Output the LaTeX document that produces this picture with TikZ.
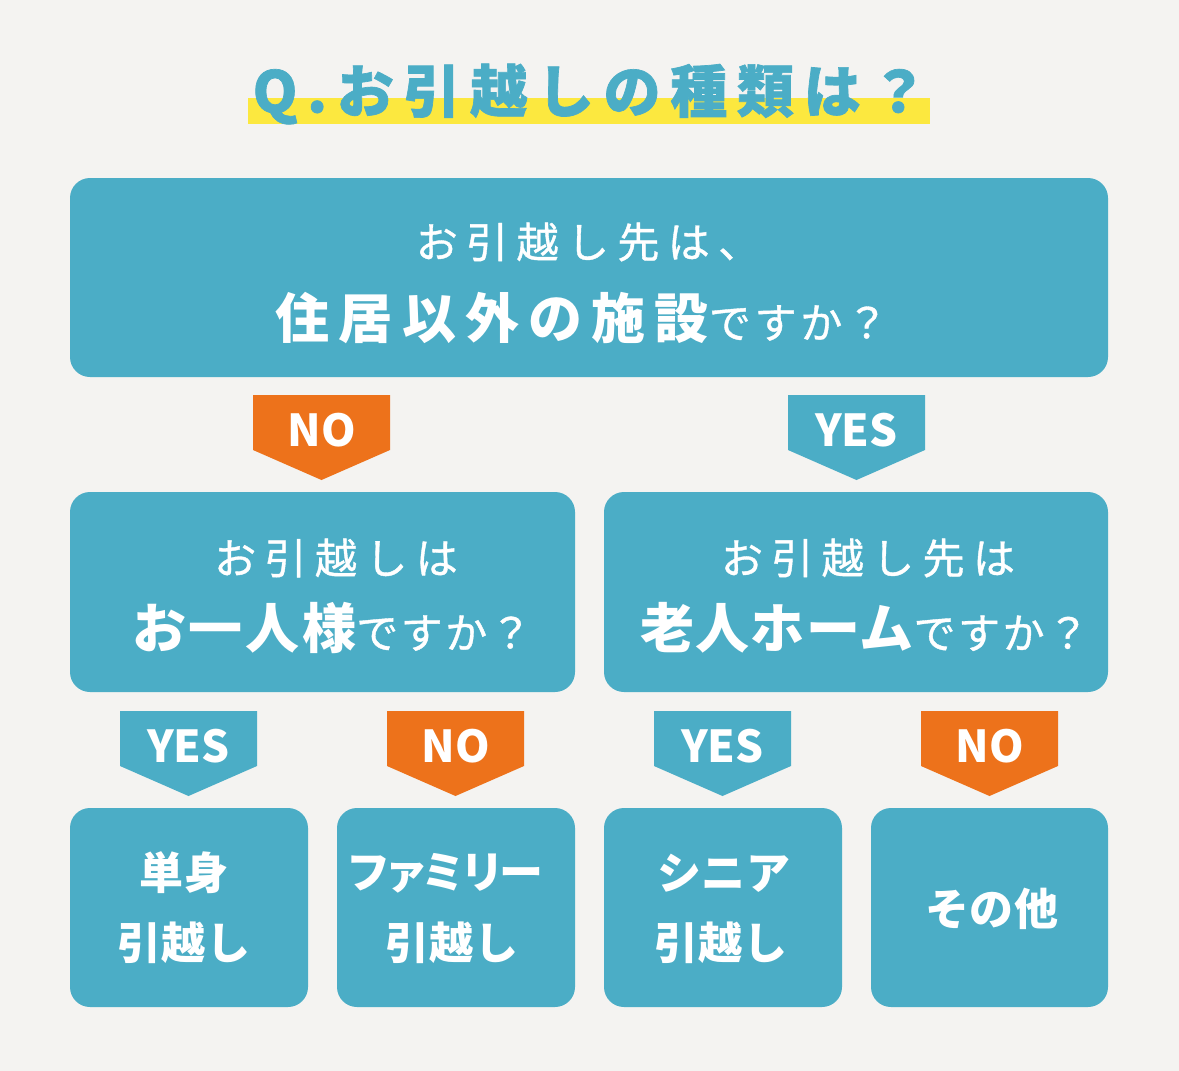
\documentclass[tikz,border=0pt]{standalone}
\usepackage{fontspec}
\setmainfont{Noto Sans CJK JP}
\definecolor{bgc}{HTML}{F4F3F1}
\definecolor{teal}{HTML}{4BADC6}
\definecolor{orng}{HTML}{ED721B}
\definecolor{yel}{HTML}{FCE83F}
\newcommand{\Reg}[1]{\fontsize{42}{48}\mdseries\selectfont\addfontfeatures{LetterSpace=#1,FakeBold=0.9}}
\newcommand{\Bld}[1]{\fontsize{54}{60}\bfseries\selectfont\addfontfeatures{LetterSpace=#1}}
\tikzset{
  box/.style={fill=teal, rounded corners=20pt},
  txt/.style={text=white, inner sep=0pt, anchor=center},
  big/.style={font=\fontsize{44}{50}\bfseries\selectfont\addfontfeatures{LetterSpace=2}},
  tagtxt/.style={text=white, inner sep=0pt, font=\fontsize{44}{48}\bfseries\selectfont},
}
\newcommand{\tagshape}[3]{% x1, top, fill
  \fill[#3] (#1,#2) -- ++(137,0) -- ++(0,55) -- ++(-68.5,30) -- ++(-68.5,-30) -- cycle;
}
\begin{document}
\begin{tikzpicture}[x=1pt,y=-1pt]
\useasboundingbox (0,0) rectangle (1179,1071);
\fill[bgc] (0,0) rectangle (1179,1071);
% title
\fill[yel] (248,98) rectangle (930,124);
\node[inner sep=0pt, text=teal, font=\fontsize{57}{60}\bfseries\selectfont\addfontfeatures{LetterSpace=17,FakeBold=1.2}] (title) at (590,94) {Q.お引越しの種類は？};
% top box
\fill[box] (70,178) rectangle (1108,377);
\node[txt] (q1a) at (588,242) {\Reg{20}お引越し先は、};
\node[txt] (q1b) at (582,318) {{\Bld{17}住居以外の施設}{\Reg{9}ですか？}};
% tags level 1
\tagshape{253}{395}{orng}
\node[tagtxt] (no1) at (321.5,430) {NO};
\tagshape{788}{395}{teal}
\node[tagtxt] (yes1) at (856.5,430) {YES};
% mid boxes
\fill[box] (70,492) rectangle (575,692);
\node[txt] (q2a) at (336,558) {\Reg{20}お引越しは};
\node[txt] (q2b) at (332,628) {{\Bld{5}お一人様}{\Reg{6}ですか？}};
\fill[box] (604,492) rectangle (1108,692);
\node[txt] (q3a) at (868,558) {\Reg{20}お引越し先は};
\node[txt] (q3b) at (865,628) {{\Bld{2}老人ホーム}{\Reg{6}ですか？}};
% tags level 2
\tagshape{120}{711}{teal}
\node[tagtxt] (yes2) at (188.5,746) {YES};
\tagshape{387}{711}{orng}
\node[tagtxt] (no2) at (455.5,746) {NO};
\tagshape{654}{711}{teal}
\node[tagtxt] (yes3) at (722.5,746) {YES};
\tagshape{921}{711}{orng}
\node[tagtxt] (no3) at (989.5,746) {NO};
% bottom boxes
\fill[box] (70,808) rectangle (308,1007);
\fill[box] (337,808) rectangle (575,1007);
\fill[box] (604,808) rectangle (842,1007);
\fill[box] (871,808) rectangle (1108,1007);
\node[txt, big] (r1a) at (184,873) {単身};
\node[txt, big] (r1b) at (184,943) {引越し};
\node[txt, font=\fontsize{44}{50}\bfseries\selectfont\addfontfeatures{RawFeature=+palt}] (r2a) at (446,873) {ファミリー};
\node[txt, big] (r2b) at (452,943) {引越し};
\node[txt, big] (r3a) at (724,873) {シニア};
\node[txt, big] (r3b) at (721,943) {引越し};
\node[txt, big] (r4) at (992,909) {その他};
\end{tikzpicture}
\end{document}
